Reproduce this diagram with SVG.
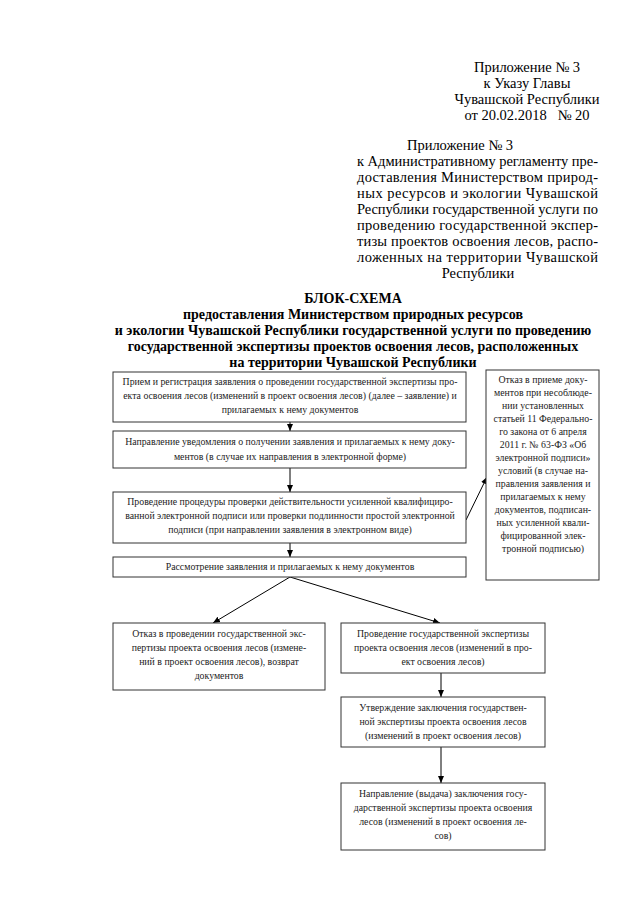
<svg xmlns="http://www.w3.org/2000/svg" width="640" height="905" viewBox="0 0 640 905">
<defs>
<marker id="ah" markerWidth="8" markerHeight="8" refX="7" refY="4" orient="auto" markerUnits="userSpaceOnUse">
<path d="M0,1 L7,4 L0,7 Z" fill="#000"/>
</marker>
<style>
.hd{font-family:"Liberation Serif","Times New Roman",serif;font-size:14.5px;fill:#000}
.tt{font-family:"Liberation Serif","Times New Roman",serif;font-size:14px;font-weight:bold;fill:#000;text-anchor:middle}
.bx{fill:#fff;stroke:#333;stroke-width:1}
.bt{font-family:"Liberation Serif","Times New Roman",serif;font-size:9.8px;fill:#222;text-anchor:middle}
.cn{stroke:#000;stroke-width:1;fill:none;marker-end:url(#ah)}
</style>
</defs>
<rect width="640" height="905" fill="#fff"/>
<g id="header1" class="hd" text-anchor="middle">
<text x="527" y="72">Приложение № 3</text>
<text x="527" y="88">к Указу Главы</text>
<text x="527" y="104">Чувашской Республики</text>
<text x="527" y="120" xml:space="preserve">от 20.02.2018   № 20</text>
</g>
<g id="header2" class="hd">
<text x="460" y="150" text-anchor="middle">Приложение № 3</text>
<text x="357" y="166" textLength="241" lengthAdjust="spacing">к Административному регламенту пре-</text>
<text x="357" y="182" textLength="241" lengthAdjust="spacing">доставления Министерством природ-</text>
<text x="357" y="198" textLength="241" lengthAdjust="spacing">ных ресурсов и экологии Чувашской</text>
<text x="357" y="214" textLength="241" lengthAdjust="spacing">Республики государственной услуги по</text>
<text x="357" y="230" textLength="241" lengthAdjust="spacing">проведению государственной экспер-</text>
<text x="357" y="246" textLength="241" lengthAdjust="spacing">тизы проектов освоения лесов, распо-</text>
<text x="357" y="262" textLength="241" lengthAdjust="spacing">ложенных на территории Чувашской</text>
<text x="478" y="278" text-anchor="middle">Республики</text>
</g>
<g id="title" class="tt">
<text x="353" y="303">БЛОК-СХЕМА</text>
<text x="353" y="319">предоставления Министерством природных ресурсов</text>
<text x="353" y="335">и экологии Чувашской Республики государственной услуги по проведению</text>
<text x="353" y="351">государственной экспертизы проектов освоения лесов, расположенных</text>
<text x="353" y="367">на территории Чувашской Республики</text>
</g>
<g id="connectors">
<line class="cn" x1="290" y1="422" x2="290" y2="431"/>
<line class="cn" x1="290" y1="468" x2="290" y2="492"/>
<line class="cn" x1="290" y1="543" x2="290" y2="557"/>
<line class="cn" x1="466" y1="520" x2="487" y2="477"/>
<line class="cn" x1="290" y1="577" x2="213" y2="623"/>
<line class="cn" x1="290" y1="577" x2="440" y2="623"/>
<line class="cn" x1="441" y1="673" x2="441" y2="697"/>
<line class="cn" x1="441" y1="747" x2="441" y2="783"/>
</g>
<g id="n1">
<rect class="bx" x="113" y="372" width="353" height="50"/>
<text class="bt" x="290" y="385">Прием и регистрация заявления о проведении государственной экспертизы про-</text>
<text class="bt" x="290" y="399">екта освоения лесов (изменений в проект освоения лесов) (далее – заявление) и</text>
<text class="bt" x="290" y="413">прилагаемых к нему документов</text>
</g>
<g id="n2">
<rect class="bx" x="113" y="431" width="353" height="37"/>
<text class="bt" x="290" y="445">Направление уведомления о получении заявления и прилагаемых к нему доку-</text>
<text class="bt" x="290" y="460">ментов (в случае их направления в электронной форме)</text>
</g>
<g id="n3">
<rect class="bx" x="113" y="492" width="353" height="51"/>
<text class="bt" x="290" y="505">Проведение процедуры проверки действительности усиленной квалифициро-</text>
<text class="bt" x="290" y="519">ванной электронной подписи или проверки подлинности простой электронной</text>
<text class="bt" x="290" y="533">подписи (при направлении заявления в электронном виде)</text>
</g>
<g id="n4">
<rect class="bx" x="113" y="557" width="353" height="20"/>
<text class="bt" x="290" y="570">Рассмотрение заявления и прилагаемых к нему документов</text>
</g>
<g id="n5">
<rect class="bx" x="486" y="370" width="113" height="210"/>
<text class="bt" x="543" y="383">Отказ в приеме доку-</text>
<text class="bt" x="543" y="396">ментов при несоблюде-</text>
<text class="bt" x="543" y="409">нии установленных</text>
<text class="bt" x="543" y="422">статьей 11 Федерально-</text>
<text class="bt" x="543" y="435">го закона от 6 апреля</text>
<text class="bt" x="543" y="448">2011 г. № 63-ФЗ «Об</text>
<text class="bt" x="543" y="461">электронной подписи»</text>
<text class="bt" x="543" y="474">условий (в случае на-</text>
<text class="bt" x="543" y="487">правления заявления и</text>
<text class="bt" x="543" y="500">прилагаемых к нему</text>
<text class="bt" x="543" y="513">документов, подписан-</text>
<text class="bt" x="543" y="526">ных усиленной квали-</text>
<text class="bt" x="543" y="539">фицированной элек-</text>
<text class="bt" x="543" y="552">тронной подписью)</text>
</g>
<g id="n6">
<rect class="bx" x="113" y="623" width="212" height="67"/>
<text class="bt" x="219" y="637">Отказ в проведении государственной экс-</text>
<text class="bt" x="219" y="651">пертизы проекта освоения лесов (измене-</text>
<text class="bt" x="219" y="665">ний в проект освоения лесов), возврат</text>
<text class="bt" x="219" y="679">документов</text>
</g>
<g id="n7">
<rect class="bx" x="341" y="623" width="204" height="50"/>
<text class="bt" x="443" y="637">Проведение государственной экспертизы</text>
<text class="bt" x="443" y="651">проекта освоения лесов (изменений в про-</text>
<text class="bt" x="443" y="665">ект освоения лесов)</text>
</g>
<g id="n8">
<rect class="bx" x="341" y="697" width="204" height="50"/>
<text class="bt" x="443" y="711">Утверждение заключения государствен-</text>
<text class="bt" x="443" y="725">ной экспертизы проекта освоения лесов</text>
<text class="bt" x="443" y="739">(изменений в проект освоения лесов)</text>
</g>
<g id="n9">
<rect class="bx" x="341" y="783" width="204" height="67"/>
<text class="bt" x="443" y="797">Направление (выдача) заключения госу-</text>
<text class="bt" x="443" y="811">дарственной экспертизы проекта освоения</text>
<text class="bt" x="443" y="825">лесов (изменений в проект освоения ле-</text>
<text class="bt" x="443" y="839">сов)</text>
</g>
</svg>
